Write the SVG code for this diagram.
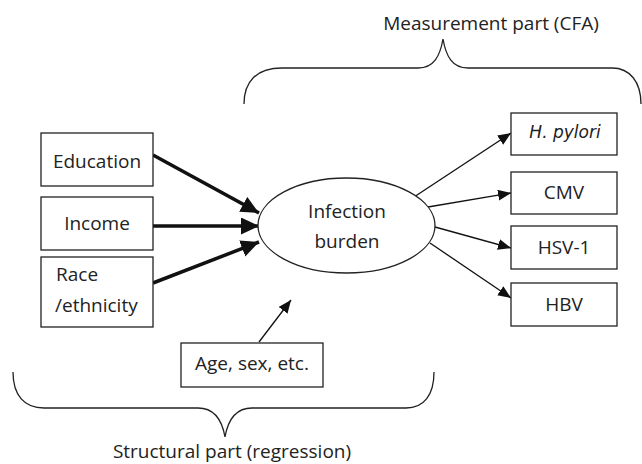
<svg xmlns="http://www.w3.org/2000/svg" width="642" height="464" viewBox="0 0 642 464">
<style>
.box{fill:#fff;stroke:#222;stroke-width:1.3}
.t{font-family:"Open Sans","Liberation Sans",sans-serif;font-size:19px;fill:#222}
.thick{stroke:#111;stroke-width:3.5;fill:none}
.thin{stroke:#111;stroke-width:1.3;fill:none}
.brace{stroke:#222;stroke-width:1.3;fill:none}
</style>
<defs>
<marker id="ah" markerUnits="userSpaceOnUse" markerWidth="20" markerHeight="18" refX="18" refY="8.5" orient="auto">
<path d="M0,0 L18,8.5 L0,17 Z" fill="#111"/>
</marker>
<marker id="as" markerUnits="userSpaceOnUse" markerWidth="14" markerHeight="12" refX="13" refY="5.5" orient="auto">
<path d="M0,0 L13,5.5 L0,11 Z" fill="#111"/>
</marker>
</defs>
<g id="braces">
<path class="brace" d="M244,104 C244,82 256,68 282,68 L418,68 C434,68 440,56 443,39 C446,56 452,68 468,68 L612,68 C630,68 641,82 641,104"/>
<path class="brace" d="M13,372 C13,395 24,408 44,408 L198,408 C214,408 222,420 225,437 C228,420 236,408 252,408 L406,408 C424,408 434,395 434,372"/>
<text class="t" x="491" y="30" text-anchor="middle">Measurement part (CFA)</text>
<text class="t" x="232" y="458" text-anchor="middle">Structural part (regression)</text>
</g>
<g id="connectors">
<line class="thick" x1="153" y1="155" x2="259" y2="213" marker-end="url(#ah)"/>
<line class="thick" x1="153" y1="226" x2="259" y2="226" marker-end="url(#ah)"/>
<line class="thick" x1="153" y1="283" x2="259" y2="242" marker-end="url(#ah)"/>
<line class="thin" x1="259" y1="342" x2="291" y2="300" marker-end="url(#as)"/>
<line class="thin" x1="414" y1="197" x2="511" y2="133" marker-end="url(#as)"/>
<line class="thin" x1="428" y1="207" x2="511" y2="193" marker-end="url(#as)"/>
<line class="thin" x1="435" y1="227" x2="511" y2="248" marker-end="url(#as)"/>
<line class="thin" x1="430" y1="243" x2="511" y2="298" marker-end="url(#as)"/>
</g>
<g id="education">
<rect class="box" x="41" y="133" width="112" height="53"/>
<text class="t" x="97" y="168" text-anchor="middle">Education</text>
</g>
<g id="income">
<rect class="box" x="41" y="197" width="112" height="53"/>
<text class="t" x="97" y="230" text-anchor="middle">Income</text>
</g>
<g id="race">
<rect class="box" x="41" y="257" width="112" height="70"/>
<text class="t" x="56" y="281">Race</text>
<text class="t" x="55" y="312">/ethnicity</text>
</g>
<g id="infection">
<ellipse cx="346.5" cy="225.5" rx="88.5" ry="47.5" fill="#fff" stroke="#222" stroke-width="1.3"/>
<text class="t" x="347" y="218" text-anchor="middle">Infection</text>
<text class="t" x="347" y="248" text-anchor="middle">burden</text>
</g>
<g id="age">
<rect class="box" x="181" y="343" width="142" height="44"/>
<text class="t" x="252" y="370" text-anchor="middle">Age, sex, etc.</text>
</g>
<g id="hpylori">
<rect class="box" x="511" y="113" width="106" height="42"/>
<text x="565" y="138" text-anchor="middle" font-family="DejaVu Sans,sans-serif" font-style="italic" font-size="17" fill="#222">H. pylori</text>
</g>
<g id="cmv">
<rect class="box" x="511" y="172" width="106" height="42"/>
<text class="t" x="564" y="199" text-anchor="middle">CMV</text>
</g>
<g id="hsv1">
<rect class="box" x="511" y="226" width="106" height="43"/>
<text class="t" x="564" y="254" text-anchor="middle">HSV-1</text>
</g>
<g id="hbv">
<rect class="box" x="511" y="283" width="106" height="43"/>
<text class="t" x="564" y="311" text-anchor="middle">HBV</text>
</g>
</svg>
